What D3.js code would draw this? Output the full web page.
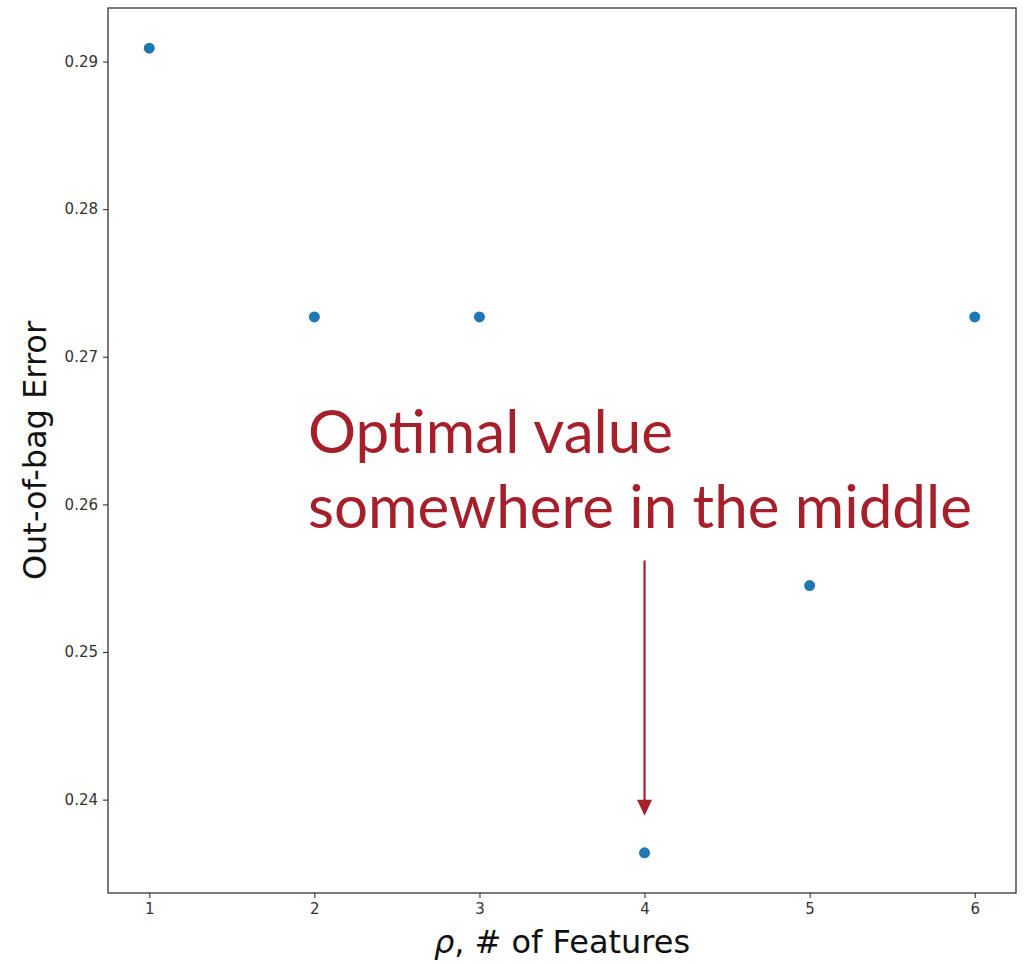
<!DOCTYPE html>
<html>
<head>
<meta charset="utf-8">
<script src="https://cdn.jsdelivr.net/npm/d3@7"></script>
<style>
  body { margin: 0; background: #fff; }
  svg { display: block; }
</style>
</head>
<body>
<div class="chart"></div>
<script>
// number of features tried vs out-of-bag error
const features = [1, 2, 3, 4, 5, 6]
const oobError = [0.2909, 0.2727, 0.2727, 0.2364, 0.2545, 0.2727]
const yTicks = [0.24, 0.25, 0.26, 0.27, 0.28, 0.29]
const noteLines = ["Optimal value", "somewhere in the middle"]

const W = 1025, H = 964
const margin = {top: 8, right: 9, bottom: 71, left: 108}
const width = W - margin.left - margin.right
const height = H - margin.top - margin.bottom
const red = "#a5202a"

const svg = d3.select(".chart")
  .append("svg")
  .attr("width", W)
  .attr("height", H)

const g = svg.append("g")
  .attr("transform", `translate(${margin.left},${margin.top})`)

// matplotlib style 5% padding
const xPad = (d3.max(features) - d3.min(features)) * 0.05
const yPad = (d3.max(oobError) - d3.min(oobError)) * 0.05

const x = d3.scaleLinear()
  .domain([d3.min(features) - xPad, d3.max(features) + xPad])
  .range([0, width])

const y = d3.scaleLinear()
  .domain([d3.min(oobError) - yPad, d3.max(oobError) + yPad])
  .range([height, 0])

const xAxis = g.append("g")
  .attr("transform", `translate(0,${height})`)
  .call(d3.axisBottom(x).tickValues(features).tickSize(5).tickPadding(5).tickFormat(d3.format("d")))

const yAxis = g.append("g")
  .call(d3.axisLeft(y).tickValues(yTicks).tickSize(5).tickPadding(5).tickFormat(d3.format(".2f")))

for (const ax of [xAxis, yAxis]) {
  ax.select(".domain").remove()
  ax.selectAll("line").attr("stroke", "#333").attr("stroke-width", 1.1)
  ax.selectAll("text")
    .attr("fill", "#333")
    .style("font-family", "DejaVu Sans")
    .style("font-size", "15px")
}

// frame
g.append("rect")
  .attr("width", width)
  .attr("height", height)
  .attr("fill", "none")
  .attr("stroke", "#333")
  .attr("stroke-width", 1.3)

g.selectAll("circle.pt")
  .data(features)
  .join("circle")
  .attr("class", "pt")
  .attr("cx", d => x(d))
  .attr("cy", (d, i) => y(oobError[i]))
  .attr("r", 5.5)
  .attr("fill", "#1f77b4")

// axis titles
svg.append("text")
  .attr("x", margin.left + width / 2)
  .attr("y", 953)
  .attr("text-anchor", "middle")
  .style("font-family", "DejaVu Sans")
  .style("font-size", "32px")
  .attr("fill", "#111")
  .html('<tspan font-style="italic">ρ</tspan>, # of Features')

svg.append("text")
  .attr("transform", `translate(46,${margin.top + height / 2}) rotate(-90)`)
  .attr("text-anchor", "middle")
  .style("font-family", "DejaVu Sans")
  .style("font-size", "32px")
  .attr("fill", "#111")
  .text("Out-of-bag Error")

// annotation
const note = g.append("g")
note.selectAll("text")
  .data(noteLines)
  .join("text")
  .attr("x", 200)
  .attr("y", (d, i) => 445 + i * 75)
  .style("font-family", "Lato")
  .style("font-size", "58px")
  .attr("fill", red)
  .text(d => d)

// fit the long line to the reference width
const longest = note.selectAll("text").nodes()[1].getComputedTextLength()
note.selectAll("text").style("font-size", (58 * 664 / longest) + "px")

const ax4 = x(4)
const yStart = y(0.2562), yTip = y(0.2389)
g.append("line")
  .attr("x1", ax4).attr("x2", ax4)
  .attr("y1", yStart).attr("y2", yTip - 15)
  .attr("stroke", red)
  .attr("stroke-width", 2.2)
g.append("path")
  .attr("d", `M${ax4 - 7.5},${yTip - 16}L${ax4 + 7.5},${yTip - 16}L${ax4},${yTip}Z`)
  .attr("fill", red)
</script>
</body>
</html>
